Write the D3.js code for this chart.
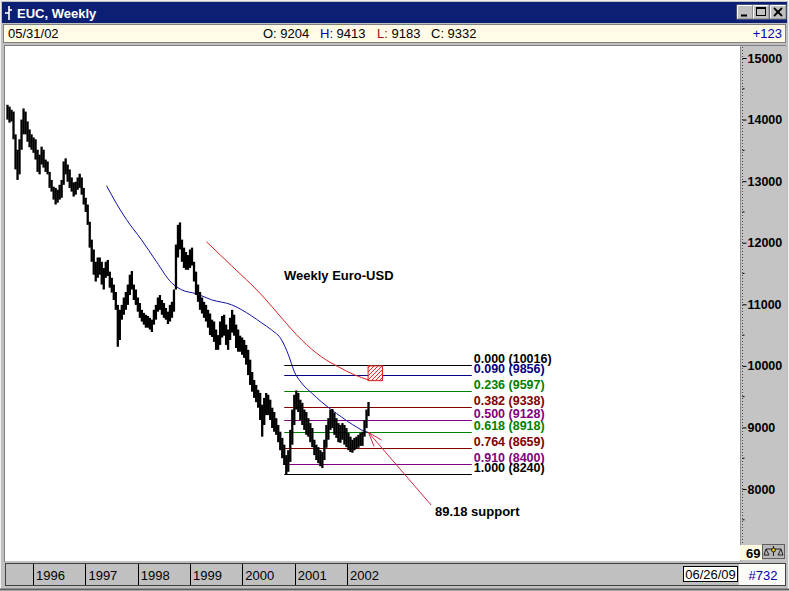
<!DOCTYPE html>
<html><head><meta charset="utf-8">
<script src="https://cdn.jsdelivr.net/npm/d3@7"></script>
<style>
html,body{margin:0;padding:0;background:#c0c0c0;}
svg{display:block;}
text{font-family:"Liberation Sans",Arial,sans-serif;}
</style></head><body>
<svg id="c" width="789" height="591"></svg>
<script>
// ---------------- DATA ----------------
const startDate = "1995-07-07";   // first bar (bi-weekly sampling)
const endDate = "2002-05-31";
const stepDays = 14;
const highs = [14240,14210,14160,14130,13760,13510,13680,14000,14180,14130,
 13970,13840,13760,13710,13680,13510,13430,13560,13510,13350,
 13320,13150,13020,12910,12890,12860,12940,13020,13320,13370,
 13270,13190,13060,12980,12990,13060,13120,13060,12890,12730,
 12620,12340,12050,11890,11690,11760,11760,11690,11590,11690,
 11720,11530,11430,11320,11200,10990,10910,10990,11110,11200,
 11320,11480,11540,11320,11240,11110,11020,10910,10860,10830,
 10810,10780,10750,10910,10990,11110,11150,11070,11020,10940,
 10880,10990,11040,11240,11970,12290,12330,12050,11920,11850,
 11800,11890,11920,11690,11530,11320,11200,11110,11040,10990,
 10910,10850,10750,10720,10590,10500,10720,10810,10830,10670,
 10590,10780,10910,10830,10670,10590,10490,10460,10420,10340,
 10260,10100,9900,9770,9690,9610,9560,9370,9480,9560,
 9530,9450,9320,9250,9150,9040,8930,8830,8720,8550,
 8630,8960,9290,9530,9600,9560,9450,9400,9290,9250,
 9150,9070,8990,8800,8720,8680,8630,8600,8800,9040,
 9150,9290,9300,9240,9150,9070,9040,9070,9040,8990,
 8910,8850,8800,8830,8850,8880,8910,8930,9120,9290,
 9413];
const lows = [14000,13950,13970,13680,13190,13020,13110,13510,13760,13760,
 13640,13550,13510,13460,13350,13150,13110,13270,13220,13150,
 13110,12890,12830,12700,12620,12650,12700,12730,12940,13110,
 12990,12890,12830,12750,12780,12860,12890,12780,12620,12500,
 12290,11920,11690,11480,11370,11430,11480,11320,11240,11430,
 11460,11270,11190,11070,10910,10310,10420,10750,10830,10910,
 10990,11150,11240,11070,10990,10880,10780,10720,10670,10620,
 10620,10590,10550,10670,10750,10880,10910,10830,10780,10750,
 10680,10720,10780,10880,11240,11760,11890,11690,11590,11560,
 11560,11590,11630,11370,11150,11040,10910,10850,10780,10720,
 10620,10500,10470,10390,10260,10260,10340,10460,10490,10340,
 10260,10420,10540,10490,10290,10230,10230,10180,10130,10020,
 9850,9690,9580,9480,9410,9320,9120,8850,9040,9200,
 9200,9120,8990,8930,8880,8760,8630,8500,8390,8240,
 8280,8440,8720,9040,9290,9250,9120,9040,8960,8880,
 8850,8760,8680,8550,8470,8420,8370,8340,8470,8670,
 8800,8960,8990,8880,8830,8760,8750,8800,8720,8680,
 8630,8600,8590,8630,8650,8670,8700,8700,8850,8990,
 9183];

// blue moving average
const blueDates = ["1997-05-28","1997-08-06","1997-10-15","1998-01-27","1998-05-12","1998-08-25","1998-11-03",
 "1999-02-15","1999-05-31","1999-10-18","2000-03-05","2000-05-14","2000-07-23","2000-10-01","2000-11-18",
 "2000-12-30","2001-02-17","2001-04-28","2001-07-07","2001-09-15","2001-11-23","2002-01-11","2002-03-08",
 "2002-04-12","2002-05-31"];
const blueValues = [12927,12634,12374,12049,11691,11350,11236,11171,11073,10992,10813,10699,10585,10423,10179,
 9902,9724,9561,9415,9285,9171,9089,9008,8959,8918];
// red moving average
const redDates = ["1999-04-26","1999-10-18","2000-05-14","2000-10-01","2001-02-17","2001-07-07","2001-11-02","2002-02-22","2002-05-31"];
const redValues = [12016,11626,11154,10780,10423,10146,9984,9854,9772];

// Fibonacci retracement
const fibRatios = [0.000,0.090,0.236,0.382,0.500,0.618,0.764,0.910,1.000];
const fibValues = [10016,9856,9597,9338,9128,8918,8659,8400,8240];
const fibStart = "2000-10-20", fibEnd = "2004-05-21";

// target box
const boxDates = ["2002-05-28","2002-09-06"];
const boxValues = [10000, 9760];

// annotations
const chartTitle = "Weekly Euro-USD";
const titleAt = {date:"2000-10-18", value:11400};
const supportText = "89.18 support";
const supportAt = {date:"2003-09-07", value:7560};
const arrowTip = {date:"2002-05-31", value:8918};
const arrowTail = {date:"2003-08-11", value:7740};

// axes
const yTicks = [8000,9000,10000,11000,12000,13000,14000,15000];
const yMinor = [7500,8500,9500,10500,11500,12500,13500,14500];
const yearLabels = [1996,1997,1998,1999,2000,2001,2002];

// header / footer
const windowTitle = "EUC, Weekly";
const barDate = "05/31/02";
const ohlcKeys = ["O:","H:","L:","C:"];
const ohlcVals = [9204,9413,9183,9332];
const change = "+123";
const footDate = "06/26/09";
const footCount = "#732";
const axisCorner = "69";

// ---------------- DRAW ----------------
const parse = d3.utcParse("%Y-%m-%d");
const t0 = parse(startDate);
const dates = highs.map((_, i) => d3.utcDay.offset(t0, i * stepDays));

const x = d3.scaleUtc().domain([t0, parse(endDate)]).range([7.5, 368.5]);
const y = d3.scaleLinear().domain([8000, 15000]).range([489, 58]);

const svg = d3.select("#c");
svg.append("rect").attr("width",789).attr("height",591).attr("fill","#c0c0c0");
svg.append("rect").attr("x",0.5).attr("y",0.5).attr("width",788).attr("height",590)
  .attr("fill","none").attr("stroke","#efefef");

// title bar
svg.append("rect").attr("x",2).attr("y",2).attr("width",785).attr("height",21).attr("fill","#0b1f74");
const ic = svg.append("g").attr("stroke","#fff").attr("stroke-width",1.6).attr("fill","none");
ic.append("line").attr("x1",9).attr("y1",6).attr("x2",9).attr("y2",20);
ic.append("line").attr("x1",5).attr("y1",13).attr("x2",9).attr("y2",13);
ic.append("line").attr("x1",9).attr("y1",10).attr("x2",12).attr("y2",10);
svg.append("text").attr("x",17).attr("y",18).attr("fill","#fff").attr("font-weight","bold")
  .attr("font-size",13).text(windowTitle);
// window buttons
[737,753,770].forEach((bx,i)=>{
  svg.append("rect").attr("x",bx).attr("y",5).attr("width",16).attr("height",14).attr("fill","#c0c0c0")
    .attr("stroke","#808080");
  svg.append("line").attr("x1",bx+0.5).attr("y1",5.5).attr("x2",bx+15.5).attr("y2",5.5).attr("stroke","#fff");
  svg.append("line").attr("x1",bx+0.5).attr("y1",5.5).attr("x2",bx+0.5).attr("y2",18.5).attr("stroke","#fff");
  const g = svg.append("g").attr("stroke","#000").attr("fill","none");
  if(i===0) g.append("line").attr("x1",bx+4).attr("y1",15.5).attr("x2",bx+10).attr("y2",15.5).attr("stroke-width",2);
  if(i===1){ g.append("rect").attr("x",bx+3.5).attr("y",7.5).attr("width",9).attr("height",8);
             g.append("line").attr("x1",bx+3.5).attr("y1",8.5).attr("x2",bx+12.5).attr("y2",8.5);}
  if(i===2){ g.attr("stroke-width",1.8);
    g.append("line").attr("x1",bx+4).attr("y1",8).attr("x2",bx+12).attr("y2",16);
    g.append("line").attr("x1",bx+12).attr("y1",8).attr("x2",bx+4).attr("y2",16);}
});

// info bar
svg.append("rect").attr("x",3.5).attr("y",24.5).attr("width",782).attr("height",18)
  .attr("fill","#fffbe6").attr("stroke","#808080");
const info = svg.append("g").attr("font-size",13);
info.append("text").attr("x",8).attr("y",38).text(barDate);
const keyColors = ["#000","#0000b0","#a01010","#000"];
const keyX = [263,320,377,431];
ohlcKeys.forEach((k,i)=>{
  const t = info.append("text").attr("x",keyX[i]).attr("y",38);
  t.append("tspan").attr("fill",keyColors[i]).text(k);
  t.append("tspan").attr("fill","#000").text(" " + ohlcVals[i]);
});
info.append("text").attr("x",782).attr("y",38).attr("text-anchor","end").attr("fill","#0000b0").text(change);

// chart area
svg.append("rect").attr("x",5).attr("y",46).attr("width",735).attr("height",515).attr("fill","#fff");
svg.append("line").attr("x1",4.5).attr("y1",45).attr("x2",4.5).attr("y2",562).attr("stroke","#808080");
svg.append("line").attr("x1",4).attr("y1",45.5).attr("x2",786).attr("y2",45.5).attr("stroke","#808080");

const plot = svg.append("g");
plot.append("clipPath").attr("id","clip").append("rect").attr("x",5).attr("y",46).attr("width",735).attr("height",515);
const pg = plot.append("g").attr("clip-path","url(#clip)");

// Fibonacci lines
const fibColors = ["#000000","#000080","#008000","#800000","#800080","#008000","#800000","#800080","#000000"];
const fx0 = x(parse(fibStart)), fx1 = x(parse(fibEnd));
pg.selectAll("line.fib").data(fibValues).join("line").attr("class","fib")
  .attr("x1",fx0).attr("x2",fx1)
  .attr("y1",d=>Math.round(y(d))+0.5).attr("y2",d=>Math.round(y(d))+0.5)
  .attr("stroke",(d,i)=>fibColors[i]).attr("stroke-width",1);
pg.selectAll("text.fib").data(fibValues).join("text").attr("class","fib")
  .attr("x",fx1+2).attr("y",d=>y(d)-2)
  .attr("fill",(d,i)=>fibColors[i]).attr("font-size",12.5).attr("font-weight","bold")
  .text((d,i)=>fibRatios[i].toFixed(3)+" ("+d+")");

// moving averages
const line = d3.line().x(d=>x(d[0])).y(d=>y(d[1])).curve(d3.curveMonotoneX);
pg.append("path").datum(blueDates.map((d,i)=>[parse(d),blueValues[i]]))
  .attr("d",line).attr("fill","none").attr("stroke","#1010a0").attr("stroke-width",1);
pg.append("path").datum(redDates.map((d,i)=>[parse(d),redValues[i]]))
  .attr("d",line).attr("fill","none").attr("stroke","#d82020").attr("stroke-width",1);

// price bars
pg.append("g").selectAll("rect").data(dates).join("rect")
  .attr("x",d=>x(d)-1.15).attr("width",2.3)
  .attr("y",(d,i)=>y(highs[i])).attr("height",(d,i)=>Math.max(1,y(lows[i])-y(highs[i])))
  .attr("fill","#000");

// hatched box
const defs = svg.append("defs");
const pat = defs.append("pattern").attr("id","hatch").attr("patternUnits","userSpaceOnUse")
  .attr("width",4).attr("height",4);
pat.append("rect").attr("width",4).attr("height",4).attr("fill","#fff0f0");
pat.append("path").attr("d","M-1,1 l2,-2 M0,4 l4,-4 M3,5 l2,-2").attr("stroke","#e03030").attr("stroke-width",1);
const bx0 = x(parse(boxDates[0])), bx1 = x(parse(boxDates[1]));
pg.append("rect").attr("x",bx0).attr("y",y(boxValues[0])).attr("width",bx1-bx0)
  .attr("height",y(boxValues[1])-y(boxValues[0])).attr("fill","url(#hatch)").attr("stroke","#e02020");

// arrow
const tx = x(parse(arrowTip.date)), ty = y(arrowTip.value);
const lx = x(parse(arrowTail.date)), ly = y(arrowTail.value);
const ang = Math.atan2(ly-ty, lx-tx);
const ag = pg.append("g").attr("stroke","#d02848").attr("stroke-width",1).attr("fill","none");
ag.append("line").attr("x1",lx).attr("y1",ly).attr("x2",tx).attr("y2",ty);
[-0.33,0.33].forEach(a=>{
  ag.append("line").attr("x1",tx).attr("y1",ty)
    .attr("x2",tx+15*Math.cos(ang+a)).attr("y2",ty+15*Math.sin(ang+a));
});

// annotations text
pg.append("text").attr("x",x(parse(titleAt.date))).attr("y",y(titleAt.value))
  .attr("font-size",13).attr("font-weight","bold").text(chartTitle);
pg.append("text").attr("x",x(parse(supportAt.date))).attr("y",y(supportAt.value))
  .attr("font-size",13).attr("font-weight","bold").text(supportText);

// right axis panel
svg.append("rect").attr("x",740).attr("y",46).attr("width",46).attr("height",515).attr("fill","#c4c4c4");
svg.append("line").attr("x1",740.5).attr("y1",46).attr("x2",740.5).attr("y2",561).attr("stroke","#909090");
const ax = svg.append("g").attr("transform","translate(742.5,0)");
ax.append("line").attr("x1",0).attr("y1",47).attr("x2",0).attr("y2",544)
  .attr("stroke","#404040").attr("stroke-dasharray","1,2");
const axis = d3.axisRight(y).tickValues(yTicks).tickSize(4).tickPadding(1).tickFormat(d3.format("d"));
const ag2 = ax.append("g").call(axis);
ag2.select(".domain").remove();
ag2.selectAll("text").attr("font-size",12.5).attr("font-weight","bold").attr("fill","#000")
  .attr("font-family","'Liberation Sans',Arial,sans-serif");
ag2.selectAll("line").attr("stroke","#000");
ax.selectAll("line.minor").data(yMinor.filter(v=>y(v)<544)).join("line").attr("class","minor")
  .attr("x1",0).attr("x2",2).attr("y1",d=>y(d)).attr("y2",d=>y(d)).attr("stroke","#000");

// axis corner
svg.append("rect").attr("x",740).attr("y",545).attr("width",22).attr("height",15).attr("fill","#fffbe0");
svg.append("text").attr("x",746).attr("y",558).attr("font-size",13).attr("font-weight","bold").text(axisCorner);
svg.append("rect").attr("x",762.5).attr("y",544.5).attr("width",22).attr("height",14)
  .attr("fill","#b8b8b8").attr("stroke","#606060");
const sc = svg.append("g").attr("stroke","#202020").attr("fill","none");
sc.append("line").attr("x1",773.5).attr("y1",546).attr("x2",773.5).attr("y2",556);
sc.append("line").attr("x1",766).attr("y1",549).attr("x2",781).attr("y2",549);
sc.append("path").attr("d","M766,549 L764,555 L769,555 Z M781,549 L778,555 L783,555 Z");
sc.append("circle").attr("cx",773.5).attr("cy",550).attr("r",2).attr("fill","#e0c000");

// bottom bar
svg.append("rect").attr("x",5.5).attr("y",563.5).attr("width",780).attr("height",22)
  .attr("fill","#c0c0c0").attr("stroke","#404040");
svg.append("rect").attr("x",739).attr("y",564).attr("width",46).attr("height",21).attr("fill","#fbfbf8");
const yb = svg.append("g");
yb.selectAll("line").data(yearLabels).join("line")
  .attr("x1",d=>Math.round(x(Date.UTC(d,0,1)))+0.5).attr("x2",d=>Math.round(x(Date.UTC(d,0,1)))+0.5)
  .attr("y1",564).attr("y2",585).attr("stroke","#000");
yb.selectAll("text").data(yearLabels).join("text")
  .attr("x",d=>x(Date.UTC(d,0,1))+3).attr("y",580).attr("font-size",13).text(d=>d);
svg.append("rect").attr("x",683.5).attr("y",566.5).attr("width",54).attr("height",15)
  .attr("fill","#fff").attr("stroke","#000");
svg.append("text").attr("x",710.5).attr("y",579).attr("text-anchor","middle").attr("font-size",13).text(footDate);
svg.append("text").attr("x",763).attr("y",580).attr("text-anchor","middle").attr("font-size",13)
  .attr("fill","#0000b0").text(footCount);
svg.append("line").attr("x1",0).attr("y1",589.5).attr("x2",789).attr("y2",589.5).attr("stroke","#606060").attr("stroke-width",2);
</script>
</body></html>
